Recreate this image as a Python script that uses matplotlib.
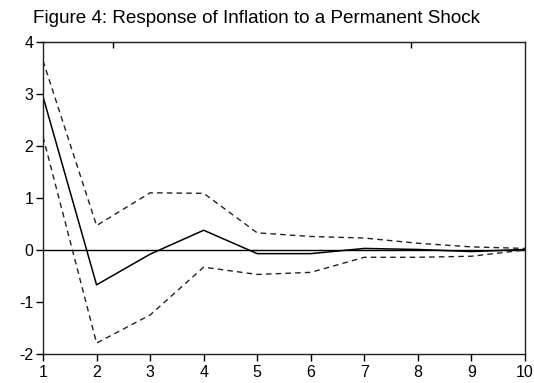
import matplotlib
matplotlib.use("Agg")
import matplotlib.pyplot as plt

# Impulse response of inflation with +/- 2 s.e. bands
periods = [1, 2, 3, 4, 5, 6, 7, 8, 9, 10]
response = [2.95, -0.67, -0.08, 0.38, -0.07, -0.07, 0.03, 0.01, -0.03, 0.01]
upper = [3.64, 0.47, 1.10, 1.09, 0.33, 0.26, 0.23, 0.13, 0.06, 0.03]
lower = [2.18, -1.79, -1.25, -0.33, -0.47, -0.43, -0.14, -0.14, -0.12, 0.00]

yticks = [-2, -1, 0, 1, 2, 3, 4]
title = "Figure 4: Response of Inflation to a Permanent Shock"

plt.rcParams["font.family"] = ["Liberation Sans", "DejaVu Sans"]
plt.rcParams["axes.unicode_minus"] = False

W, H = 534, 383
fig = plt.figure(figsize=(W / 100, H / 100), dpi=100)
ax = fig.add_axes([43 / W, 1 - 354 / H, (525 - 43) / W, (354 - 42) / H])

ax.axhline(0, color="black", lw=1.0)
ax.plot(periods, response, color="black", lw=1.1)
ax.plot(periods, upper, color="#222222", lw=1.0, ls=(0, (4, 3)))
ax.plot(periods, lower, color="#222222", lw=1.0, ls=(0, (4, 3)))

ax.set_xlim(1, 10)
ax.set_ylim(-2, 4)
ax.set_xticks(periods)
ax.set_yticks(yticks)
ax.tick_params(axis="both", direction="out", length=5, width=1, labelsize=11.5,
               colors="black", pad=2)
ax.tick_params(axis="x", pad=3)
for s in ax.spines.values():
    s.set_linewidth(1.0)
    s.set_color("#222222")

# short tick marks along the top frame
top = ax.secondary_xaxis("top")
top.set_xticks([2.3, 7.87])
top.set_xticklabels([])
top.tick_params(direction="in", length=4, width=1)

fig.text(33 / W, 1 - 23 / H, title, fontsize=13.6, ha="left", va="baseline")

fig.savefig("out.png", dpi=100)
